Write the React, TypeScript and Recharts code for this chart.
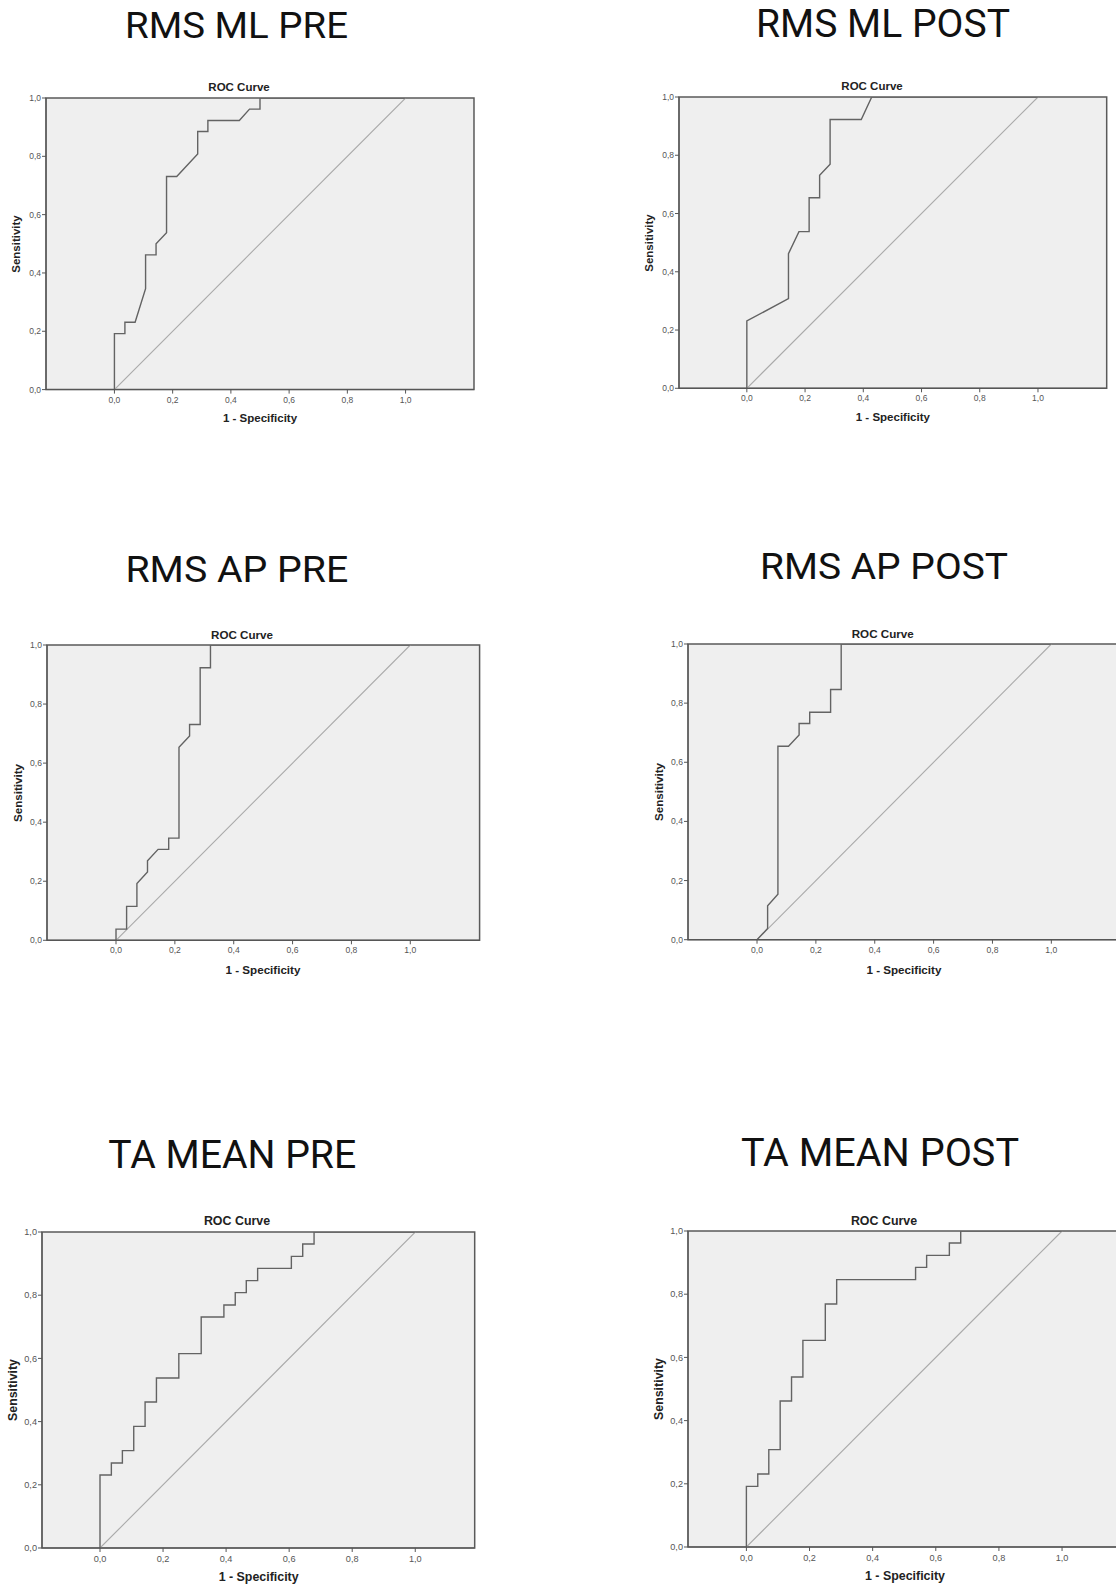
import React from 'react';
import { LineChart, Line, XAxis, YAxis, ReferenceArea } from 'recharts';

// ---------- data ----------
const axisTicks = [0, 0.2, 0.4, 0.6, 0.8, 1.0];
const axisTickLabels = ['0,0', '0,2', '0,4', '0,6', '0,8', '1,0'];

const panelHeadings = ['RMS ML PRE', 'RMS ML POST', 'RMS AP PRE', 'RMS AP POST', 'TA MEAN PRE', 'TA MEAN POST'];

const diagonalFpr = [0, 1];
const diagonalTpr = [0, 1];

const mlPreFpr = [0, 0, 0.036, 0.036, 0.071, 0.107, 0.107, 0.143, 0.143, 0.179, 0.179, 0.214, 0.286, 0.286, 0.321, 0.321, 0.429, 0.464, 0.5, 0.5, 1];
const mlPreTpr = [0, 0.192, 0.192, 0.231, 0.231, 0.346, 0.462, 0.462, 0.5, 0.538, 0.731, 0.731, 0.808, 0.885, 0.885, 0.923, 0.923, 0.962, 0.962, 1, 1];

const mlPostFpr = [0, 0, 0.143, 0.143, 0.179, 0.214, 0.214, 0.25, 0.25, 0.286, 0.286, 0.393, 0.429, 1];
const mlPostTpr = [0, 0.231, 0.308, 0.462, 0.538, 0.538, 0.654, 0.654, 0.731, 0.769, 0.923, 0.923, 1, 1];

const apPreFpr = [0, 0, 0.036, 0.036, 0.071, 0.071, 0.107, 0.107, 0.143, 0.179, 0.179, 0.214, 0.214, 0.25, 0.25, 0.286, 0.286, 0.321, 0.321, 1];
const apPreTpr = [0, 0.038, 0.038, 0.115, 0.115, 0.192, 0.231, 0.269, 0.308, 0.308, 0.346, 0.346, 0.654, 0.692, 0.731, 0.731, 0.923, 0.923, 1, 1];

const apPostFpr = [0, 0.036, 0.036, 0.071, 0.071, 0.107, 0.143, 0.143, 0.179, 0.179, 0.25, 0.25, 0.286, 0.286, 1];
const apPostTpr = [0, 0.038, 0.115, 0.154, 0.654, 0.654, 0.692, 0.731, 0.731, 0.769, 0.769, 0.846, 0.846, 1, 1];

const taPreFpr = [0, 0, 0.036, 0.036, 0.071, 0.071, 0.107, 0.107, 0.143, 0.143, 0.179, 0.179, 0.25, 0.25, 0.321, 0.321, 0.393, 0.393, 0.429, 0.429, 0.464, 0.464, 0.5, 0.5, 0.607, 0.607, 0.643, 0.643, 0.679, 0.679, 1];
const taPreTpr = [0, 0.231, 0.231, 0.269, 0.269, 0.308, 0.308, 0.385, 0.385, 0.462, 0.462, 0.538, 0.538, 0.615, 0.615, 0.731, 0.731, 0.769, 0.769, 0.808, 0.808, 0.846, 0.846, 0.885, 0.885, 0.923, 0.923, 0.962, 0.962, 1, 1];

const taPostFpr = [0, 0, 0.036, 0.036, 0.071, 0.071, 0.107, 0.107, 0.143, 0.143, 0.179, 0.179, 0.25, 0.25, 0.286, 0.286, 0.536, 0.536, 0.571, 0.571, 0.643, 0.643, 0.679, 0.679, 1];
const taPostTpr = [0, 0.192, 0.192, 0.231, 0.231, 0.308, 0.308, 0.462, 0.462, 0.538, 0.538, 0.654, 0.654, 0.769, 0.769, 0.846, 0.846, 0.885, 0.885, 0.923, 0.923, 0.962, 0.962, 1, 1];

// ---------- layout ----------
type Geo = {
  L: number; T: number; R: number; B: number;
  xmin: number; xmax: number;
  titleX: number; titleY: number;
  hx: number; hw: number; hy: number; hs: number;
  s: number;
};

const geos: Geo[] = [
  { L: 46, T: 97.7, R: 474, B: 389.3, xmin: -0.235, xmax: 1.235, titleX: 239, titleY: 88.3, hx: 125, hw: 223, hy: 38.3, hs: 36, s: 1 },
  { L: 679, T: 97, R: 1106.7, B: 388.3, xmin: -0.233, xmax: 1.236, titleX: 872, titleY: 86.7, hx: 756, hw: 254, hy: 37.3, hs: 38.4, s: 1 },
  { L: 46.7, T: 645, R: 479.3, B: 940.3, xmin: -0.2345, xmax: 1.2355, titleX: 242, titleY: 635, hx: 125.4, hw: 223, hy: 581.5, hs: 36.6, s: 1.01 },
  { L: 687.7, T: 644.3, R: 1120.2, B: 940, xmin: -0.2345, xmax: 1.235, titleX: 882.7, titleY: 634, hx: 760, hw: 248, hy: 579.3, hs: 37.4, s: 1.01 },
  { L: 42.3, T: 1231.7, R: 475, B: 1547.7, xmin: -0.184, xmax: 1.1885, titleX: 237, titleY: 1221, hx: 108.3, hw: 248, hy: 1167.7, hs: 39, s: 1.08 },
  { L: 688.3, T: 1230.7, R: 1121.7, B: 1546.7, xmin: -0.185, xmax: 1.188, titleX: 884, titleY: 1220.7, hx: 741, hw: 278, hy: 1166, hs: 38.7, s: 1.08 },
];

const series: [number[], number[]][] = [
  [mlPreFpr, mlPreTpr],
  [mlPostFpr, mlPostTpr],
  [apPreFpr, apPreTpr],
  [apPostFpr, apPostTpr],
  [taPreFpr, taPreTpr],
  [taPostFpr, taPostTpr],
];

const fmt = (v: number) => {
  const i = axisTicks.findIndex((t) => Math.abs(t - v) < 1e-6);
  return i >= 0 ? axisTickLabels[i] : String(v);
};

const SPSS_FONT = '"Liberation Sans", Arial, sans-serif';

function Panel({ g, fpr, tpr, heading }: { g: Geo; fpr: number[]; tpr: number[]; heading: string }) {
  const data = fpr.map((x, i) => ({ x, y: tpr[i] }));
  const diag = diagonalFpr.map((x, i) => ({ x, y: diagonalTpr[i] }));
  const padL = 50, padT = 10, padR = 10, padB = 45;
  const width = g.R - g.L + padL + padR;
  const height = g.B - g.T + padT + padB;
  const tickFont = { fontSize: 8.5 * g.s, fill: '#555', fontFamily: SPSS_FONT };
  const titleStyle: React.CSSProperties = {
    position: 'absolute', fontFamily: SPSS_FONT, fontWeight: 'bold', fontSize: 11.5 * g.s,
    color: '#222', lineHeight: 1, whiteSpace: 'nowrap',
  };
  return (
    <>
      <svg style={{ position: 'absolute', left: 0, top: g.hy - 37, overflow: 'visible' }} width={1116} height={50}>
        <text x={g.hx} y={37} fontFamily='Roboto, "Open Sans", sans-serif' fontSize={g.hs} fill="#111"
          textLength={g.hw} lengthAdjust="spacingAndGlyphs">{heading}</text>
      </svg>
      <div style={{ position: 'absolute', left: g.L - padL, top: g.T - padT }}>
        <LineChart width={width} height={height} margin={{ top: padT, right: padR, left: 0, bottom: 0 }}>
          <ReferenceArea x1={g.xmin} x2={g.xmax} y1={0} y2={1} fill="#efefef" fillOpacity={1}
            stroke="#5a5a5a" strokeWidth={1.5} ifOverflow="visible" />
          <XAxis type="number" dataKey="x" domain={[g.xmin, g.xmax]} allowDataOverflow ticks={axisTicks}
            interval={0} tickFormatter={fmt} height={padB} tickSize={4} tickMargin={3}
            stroke="#555" tick={tickFont} />
          <YAxis type="number" dataKey="y" domain={[0, 1]} allowDataOverflow ticks={axisTicks} interval={0}
            tickFormatter={fmt} width={padL} tickSize={4} tickMargin={1} stroke="#555" tick={tickFont} />
          <Line data={diag} dataKey="y" type="linear" stroke="#a9a9a9" strokeWidth={1.1} dot={false}
            activeDot={false} isAnimationActive={false} />
          <Line data={data} dataKey="y" type="linear" stroke="#636363" strokeWidth={1.4} dot={false}
            activeDot={false} isAnimationActive={false} />
        </LineChart>
      </div>
      <div style={{ ...titleStyle, left: g.titleX, top: g.titleY, transform: 'translate(-50%, -50%)' }}>ROC Curve</div>
      <div style={{ ...titleStyle, left: (g.L + g.R) / 2, top: g.B + 29.5, transform: 'translate(-50%, -50%)' }}>1 - Specificity</div>
      <div style={{ ...titleStyle, left: g.L - 29, top: (g.T + g.B) / 2, transform: 'translate(-50%, -50%) rotate(-90deg)' }}>Sensitivity</div>
    </>
  );
}

export default function App() {
  return (
    <div style={{ position: 'absolute', left: 0, top: 0, width: 1116, height: 1585, overflow: 'hidden', background: '#fff' }}>
      {geos.map((g, i) => (
        <Panel key={i} g={g} fpr={series[i][0]} tpr={series[i][1]} heading={panelHeadings[i]} />
      ))}
    </div>
  );
}
